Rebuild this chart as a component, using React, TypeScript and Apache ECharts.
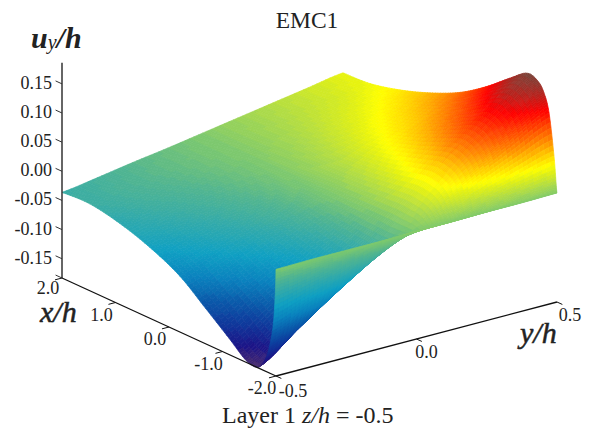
import React, { useEffect, useRef } from "react";
import * as echarts from "echarts";

const xValues = [-2.0, -1.988, -1.944, -1.852, -1.76, -1.644, -1.44, -1.12, -0.68, -0.2, 0.32, 0.88, 1.48, 2.0];
const yValues = [-0.5, -0.375, -0.25, -0.125, 0, 0.125, 0.25, 0.375, 0.5];
const zRow0 = [0.0, 0.001, 0.001, 0.001, 0.002, 0.002, 0.003, 0.003, 0.004];
const zRow1 = [-0.04, -0.03, -0.02, -0.01, 0.0, 0.004, 0.007, 0.011, 0.014];
const zRow2 = [-0.101, -0.076, -0.051, -0.025, 0.0, 0.017, 0.034, 0.05, 0.065];
const zRow3 = [-0.148, -0.111, -0.074, -0.037, 0.0, 0.035, 0.07, 0.103, 0.135];
const zRow4 = [-0.17, -0.128, -0.085, -0.043, 0.0, 0.043, 0.086, 0.126, 0.165];
const zRow5 = [-0.183, -0.137, -0.092, -0.046, 0.0, 0.047, 0.094, 0.138, 0.181];
const zRow6 = [-0.18, -0.135, -0.09, -0.045, 0.001, 0.049, 0.097, 0.142, 0.186];
const zRow7 = [-0.155, -0.116, -0.078, -0.039, 0.001, 0.043, 0.085, 0.125, 0.164];
const zRow8 = [-0.122, -0.091, -0.061, -0.03, 0.001, 0.034, 0.068, 0.1, 0.131];
const zRow9 = [-0.087, -0.065, -0.043, -0.021, 0.002, 0.027, 0.053, 0.077, 0.101];
const zRow10 = [-0.063, -0.047, -0.031, -0.015, 0.002, 0.021, 0.041, 0.06, 0.078];
const zRow11 = [-0.045, -0.033, -0.022, -0.01, 0.002, 0.016, 0.031, 0.045, 0.059];
const zRow12 = [-0.034, -0.025, -0.016, -0.007, 0.002, 0.013, 0.024, 0.034, 0.045];
const zRow13 = [-0.036, -0.027, -0.017, -0.008, 0.002, 0.012, 0.022, 0.032, 0.042];
const zRows = [zRow0, zRow1, zRow2, zRow3, zRow4, zRow5, zRow6, zRow7, zRow8, zRow9, zRow10, zRow11, zRow12, zRow13];

const zTicks = ["0.15", "0.10", "0.05", "0.00", "-0.05", "-0.10", "-0.15"];
const xTicks = ["2.0", "1.0", "0.0", "-1.0", "-2.0"];
const yTicks = ["-0.5", "0.0", "0.5"];

const zMin = -0.183;
const zMax = 0.186;

// colour ramp: value, r, g, b
const colourStops: number[][] = [
  [-0.185, 74, 44, 110],
  [-0.165, 28, 20, 135],
  [-0.14, 15, 55, 155],
  [-0.115, 10, 90, 170],
  [-0.09, 10, 130, 190],
  [-0.065, 15, 160, 195],
  [-0.04, 50, 170, 170],
  [-0.02, 80, 180, 145],
  [0.0, 125, 200, 110],
  [0.02, 175, 220, 70],
  [0.04, 225, 240, 20],
  [0.05, 255, 255, 0],
  [0.07, 255, 200, 0],
  [0.09, 255, 140, 0],
  [0.115, 255, 70, 0],
  [0.14, 255, 0, 0],
  [0.16, 190, 30, 25],
  [0.186, 125, 65, 55],
];

function colourOf(z: number): string {
  const q = Math.round(z / 0.003) * 0.003;
  const s = colourStops;
  if (q <= s[0][0]) return `rgb(${s[0][1]},${s[0][2]},${s[0][3]})`;
  for (let i = 1; i < s.length; i++) {
    if (q <= s[i][0]) {
      const t = (q - s[i - 1][0]) / (s[i][0] - s[i - 1][0]);
      const c = [1, 2, 3].map((k) => Math.round(s[i - 1][k] + (s[i][k] - s[i - 1][k]) * t));
      return `rgb(${c[0]},${c[1]},${c[2]})`;
    }
  }
  const l = s[s.length - 1];
  return `rgb(${l[1]},${l[2]},${l[3]})`;
}

// oblique view: data (x, y, z) to the plane of the hidden cartesian axes
function project(x: number, y: number, z: number): number[] {
  const a = (x + 2) / 4;
  const b = y + 0.5;
  return [276 - 214 * a + 281 * b, 376 - 98 * a - 74 * b - 583 * (z - zMin)];
}

function spline(p: number[], i: number, t: number): number {
  const g = (k: number) => p[Math.min(p.length - 1, Math.max(0, k))];
  const p0 = g(i - 1);
  const p1 = g(i);
  const p2 = g(i + 1);
  const p3 = g(i + 2);
  return (
    0.5 *
    (2 * p1 + (p2 - p0) * t + (2 * p0 - 5 * p1 + 4 * p2 - p3) * t * t + (3 * p1 - p0 - 3 * p2 + p3) * t * t * t)
  );
}

function zAt(ix: number, iy: number, u: number, v: number): number {
  const across = [ix - 1, ix, ix + 1, ix + 2].map((r) =>
    spline(zRows[Math.min(zRows.length - 1, Math.max(0, r))], iy, v)
  );
  return spline(across, 1, u);
}

// painter's order: farthest cell first
const cells: number[][] = [];
for (let ix = xValues.length - 2; ix >= 0; ix--) {
  for (let iy = yValues.length - 2; iy >= 0; iy--) cells.push([ix, iy]);
}

function renderCell(_params: any, api: any) {
  const ix = api.value(0) as number;
  const iy = api.value(1) as number;
  const x0 = xValues[ix];
  const x1 = xValues[ix + 1];
  const nu = Math.max(8, Math.ceil(((x1 - x0) / 4) * 80));
  const nv = 8;
  const children: any[] = [];
  const pt = (iu: number, iv: number) => {
    const u = iu / nu;
    const v = iv / nv;
    const z = zAt(ix, iy, u, v);
    const x = Math.max(-2, Math.min(2, spline(xValues, ix, u)));
    return api.coord(project(x, yValues[iy] + (yValues[iy + 1] - yValues[iy]) * v, z));
  };
  for (let iu = nu - 1; iu >= 0; iu--) {
    for (let iv = nv - 1; iv >= 0; iv--) {
      const z = zAt(ix, iy, (iu + 0.5) / nu, (iv + 0.5) / nv);
      const col = colourOf(z);
      children.push({
        type: "polygon",
        shape: { points: [pt(iu, iv), pt(iu + 1, iv), pt(iu + 1, iv + 1), pt(iu, iv + 1)] },
        style: { fill: col, stroke: col, lineWidth: 0.7 },
      });
    }
  }
  return { type: "group", children };
}

const tickFont = "Liberation Serif";

function segment(p: number[], q: number[], color: string, w: number) {
  return {
    type: "line",
    shape: { x1: p[0], y1: p[1], x2: q[0], y2: q[1] },
    style: { stroke: color, lineWidth: w },
  };
}

function renderAxes(_params: any, api: any) {
  const c = (x: number, y: number, z: number) => api.coord(project(x, y, z));
  const zFloor = zMin;
  const children: any[] = [
    segment(c(2, -0.5, zFloor), c(2, -0.5, zMax), "#333", 1.5),
    segment(c(2, -0.5, zFloor), c(-2, -0.5, zFloor), "#111", 1.3),
    segment(c(-2, -0.5, zFloor), c(-2, 0.5, zFloor), "#111", 1.3),
  ];
  const text = (p: number[], s: string, align: string) => ({
    type: "text",
    x: p[0],
    y: p[1],
    style: { text: s, fill: "#222", font: `18px "${tickFont}"`, align, verticalAlign: "middle" },
  });
  zTicks.forEach((t) => {
    const z = parseFloat(t);
    const p = c(2, -0.5, z);
    children.push(segment(c(2.12, -0.5, z), p, "#333", 1));
    children.push(text([p[0] - 10, p[1] - 1], t, "right"));
  });
  children.push(segment(c(2.12, -0.5, zFloor), c(2, -0.5, zFloor), "#333", 1));
  xTicks.forEach((t) => {
    const x = parseFloat(t);
    const p = c(x, -0.5, zFloor);
    children.push(segment(c(x, -0.525, zFloor), p, "#111", 1));
    children.push(text([p[0] - 14, p[1] + (x === 2 ? 10 : 12)], t, "center"));
  });
  yTicks.forEach((t) => {
    const y = parseFloat(t);
    const p = c(-2, y, zFloor);
    children.push(segment(c(-2.1, y, zFloor), p, "#111", 1));
    const dx = y === 0.5 ? 13 : y === 0 ? 10 : 17;
    const dy = y === 0.5 ? 13 : y === 0 ? 13 : 15;
    children.push(text([p[0] + dx, p[1] + dy], t, "center"));
  });
  return { type: "group", children };
}

export default function App() {
  const ref = useRef<HTMLDivElement>(null);
  useEffect(() => {
    document.body.style.margin = "0";
    document.body.style.background = "#fff";
    const chart = echarts.init(ref.current!, undefined, { renderer: "svg" });
    const serif = `"${tickFont}"`;
    chart.setOption({
      animation: false,
      backgroundColor: "#ffffff",
      grid: { left: 0, top: 0, width: 592, height: 433 },
      xAxis: { type: "value", min: 0, max: 592, show: false },
      yAxis: { type: "value", min: 0, max: 433, inverse: true, show: false },
      series: [
        {
          type: "custom",
          coordinateSystem: "cartesian2d",
          renderItem: renderCell,
          data: cells,
          encode: { x: 0, y: 1 },
          silent: true,
          clip: false,
        },
        {
          type: "custom",
          coordinateSystem: "cartesian2d",
          renderItem: renderAxes,
          data: [[0, 0]],
          encode: { x: 0, y: 1 },
          silent: true,
          clip: false,
        },
      ],
      graphic: [
        {
          type: "text",
          x: 307,
          y: 20,
          style: {
            text: "EMC1",
            font: `23.5px ${serif}`,
            fill: "#222",
            align: "center",
            verticalAlign: "middle",
          },
        },
        {
          type: "text",
          x: 31,
          y: 22,
          style: {
            text: "{a|u}{b|y}{a|/h}",
            rich: {
              a: { font: `italic bold 30px ${serif}`, fill: "#222" },
              b: { font: `italic 20px ${serif}`, fill: "#222", padding: [10, 0, 0, 0] },
            },
          },
        },
        {
          type: "text",
          x: 40,
          y: 311,
          style: {
            text: "x/h",
            font: `italic 30px ${serif}`,
            fill: "#222",
            stroke: "#222",
            lineWidth: 0.5,
            lineHeight: 24,
            verticalAlign: "middle",
          },
        },
        {
          type: "text",
          x: 520,
          y: 332,
          style: {
            text: "y/h",
            font: `italic 30px ${serif}`,
            fill: "#222",
            stroke: "#222",
            lineWidth: 0.5,
            lineHeight: 24,
            verticalAlign: "middle",
          },
        },
        {
          type: "text",
          x: 222,
          y: 403,
          style: {
            text: "{a|Layer 1 }{b|z/h}{a| = -0.5}",
            rich: {
              a: { font: `24px ${serif}`, fill: "#222" },
              b: { font: `italic 24px ${serif}`, fill: "#222" },
            },
          },
        },
      ],
    });
    return () => chart.dispose();
  }, []);
  return <div ref={ref} style={{ width: 592, height: 433 }} />;
}
